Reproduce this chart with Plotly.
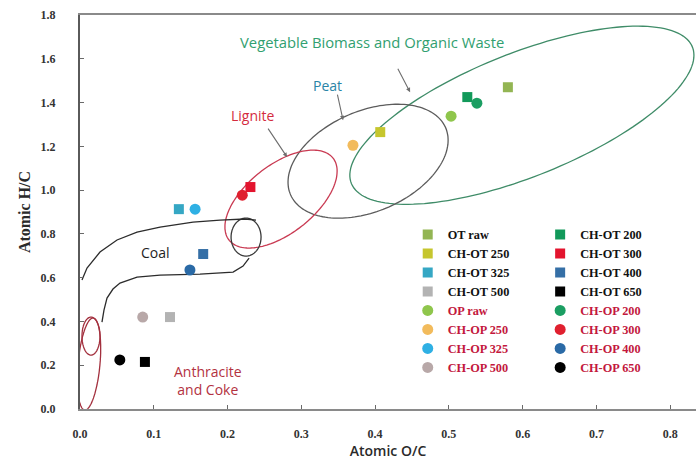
import numpy as np
import plotly.graph_objects as go

# Atomic ratios of the OT series (raw feedstock and chars at each temperature)
ot_names = ["OT raw", "CH-OT 200", "CH-OT 250", "CH-OT 300",
            "CH-OT 325", "CH-OT 400", "CH-OT 500", "CH-OT 650"]
ot_oc = [0.580, 0.525, 0.407, 0.231, 0.134, 0.167, 0.122, 0.088]
ot_hc = [1.470, 1.425, 1.265, 1.014, 0.913, 0.708, 0.420, 0.215]

# Atomic ratios of the OP series
op_names = ["OP raw", "CH-OP 200", "CH-OP 250", "CH-OP 300",
            "CH-OP 325", "CH-OP 400", "CH-OP 500", "CH-OP 650"]
op_oc = [0.503, 0.538, 0.370, 0.220, 0.156, 0.149, 0.085, 0.054]
op_hc = [1.338, 1.397, 1.205, 0.977, 0.913, 0.635, 0.420, 0.224]

ot_colors = ["#93b553", "#12995a", "#c6c62e", "#e3142e",
             "#35a7c4", "#356fa6", "#b3b3b3", "#000000"]
op_colors = ["#8fc64c", "#1b9e62", "#f2bb5c", "#e0202f",
             "#2fb0e4", "#2a6aa6", "#b8a8a8", "#000000"]

x_ticks = [0.0, 0.1, 0.2, 0.3, 0.4, 0.5, 0.6, 0.7, 0.8]
y_ticks = [0.0, 0.2, 0.4, 0.6, 0.8, 1.0, 1.2, 1.4, 1.6, 1.8]

OP_TEXT = "#c3173d"

fig = go.Figure()

# legend columns: raw/250/325/500 on the left, 200/300/400/650 on the right
left_idx = [0, 2, 4, 6]
right_idx = [1, 3, 5, 7]
for series, (names, xs, ys, cols, sym) in enumerate([
        (ot_names, ot_oc, ot_hc, ot_colors, "square"),
        (op_names, op_oc, op_hc, op_colors, "circle")]):
    for i, name in enumerate(names):
        label = name if series == 0 else f"<span style='color:{OP_TEXT}'>{name}</span>"
        col_pos = left_idx.index(i) if i in left_idx else right_idx.index(i)
        fig.add_trace(go.Scatter(
            x=[xs[i]], y=[ys[i]], mode="markers", name=label,
            marker=dict(symbol=sym, size=10 if sym == "square" else 11,
                        color=cols[i], line=dict(width=0)),
            legend="legend" if i in left_idx else "legend2",
            legendrank=series * 4 + col_pos + 1,
        ))


def ellipse_path(cx, cy, ux, uy, vx, vy, n=160):
    t = np.linspace(0, 2 * np.pi, n)
    xs = cx + ux * np.cos(t) + vx * np.sin(t)
    ys = cy + uy * np.cos(t) + vy * np.sin(t)
    pts = " L ".join(f"{a:.4f},{b:.4f}" for a, b in zip(xs, ys))
    return f"M {pts} Z"


def poly_path(points):
    return "M " + " L ".join(f"{a:.4f},{b:.4f}" for a, b in points)


# fuel-type regions (centre plus two conjugate semi-axes, in axis units)
regions = [
    ((0.599, 1.342, 0.2332, 0.274, 0.0, 0.301), "#3f8c68"),   # biomass
    ((0.3905, 1.132, 0.1085, 0.0959, 0.0, 0.242), "#5c5c5c"),  # peat
    ((0.2725, 0.959, 0.0705, 0.1872, 0.0285, -0.1224), "#c93a52"),  # lignite
    ((0.2251, 0.7854, 0.0203, 0.0, 0.0, 0.0868), "#3a3a3a"),   # coal end
    ((0.0149, 0.333, 0.0122, 0.0, 0.0, 0.0868), "#a3303e"),    # anthracite
    ((0.0122, 0.2055, 0.0149, 0.0, 0.0054, 0.21), "#a3303e"),  # coke
]
shapes = []
for params, col in regions:
    shapes.append(dict(type="path", path=ellipse_path(*params), xref="x", yref="y",
                       line=dict(color=col, width=1.3), layer="below"))

coal_upper = [(0.0027, 0.589), (0.0095, 0.644), (0.0271, 0.717), (0.0502, 0.772),
              (0.0773, 0.808), (0.1085, 0.831), (0.1532, 0.854), (0.1898, 0.863),
              (0.2237, 0.868), (0.2386, 0.863)]
coal_lower = [(0.2292, 0.6895), (0.2210, 0.653), (0.2075, 0.6256), (0.1627, 0.6164),
              (0.1085, 0.6119), (0.0773, 0.6027), (0.0542, 0.5753), (0.0447, 0.548),
              (0.0366, 0.5068), (0.0325, 0.452), (0.0298, 0.397)]
for pts in (coal_upper, coal_lower):
    shapes.append(dict(type="path", path=poly_path(pts), xref="x", yref="y",
                       line=dict(color="#2c2c2c", width=1.3), layer="below"))

label_font = "Open Sans"
annotations = [
    dict(x=0.1017, y=0.717, text="Coal", font=dict(family=label_font, size=14, color="#1e1e1e")),
    dict(x=0.1736, y=0.128, text="Anthracite<br>and Coke",
         font=dict(family=label_font, size=14, color="#b3323f")),
    dict(x=0.2346, y=1.342, text="Lignite", font=dict(family=label_font, size=14, color="#d42b3e")),
    dict(x=0.3349, y=1.479, text="Peat", font=dict(family=label_font, size=14, color="#2a84a6")),
    dict(x=0.3959, y=1.676, text="Vegetable Biomass and Organic Waste",
         font=dict(family=label_font, size=14.8, color="#31a070")),
]
for a in annotations:
    a.update(xref="x", yref="y", showarrow=False)

# pointer arrows from the labels to their regions
for (tx, ty), (hx, hy) in [((0.2536, 1.2877), (0.2807, 1.1507)),
                           ((0.3485, 1.4429), (0.3566, 1.3196)),
                           ((0.4298, 1.5616), (0.4475, 1.4475))]:
    annotations.append(dict(x=hx, y=hy, ax=tx, ay=ty, xref="x", yref="y",
                            axref="x", ayref="y", text="", showarrow=True,
                            arrowhead=2, arrowsize=0.8, arrowwidth=1.1,
                            arrowcolor="#6e6e6e"))

tick_font = dict(family="Liberation Serif", size=12, color="#333333", weight="bold")
legend_common = dict(font=dict(family="Liberation Serif", size=12.3, color="#111111",
                               weight="bold"),
                     bgcolor="rgba(0,0,0,0)", borderwidth=0, itemsizing="trace",
                     xanchor="left", yanchor="top", tracegroupgap=0)

fig.update_layout(
    width=696, height=464,
    margin=dict(l=80, r=0, t=15, b=55),
    paper_bgcolor="white", plot_bgcolor="white",
    shapes=shapes, annotations=annotations,
    showlegend=True,
    legend=dict(x=0.532, y=0.48, **legend_common),
    legend2=dict(x=0.747, y=0.48, **legend_common),
    xaxis=dict(range=[0, 0.835], tickvals=x_ticks, ticktext=[f"{v:.1f}" for v in x_ticks],
               showline=True, linecolor="#8a8a8a", linewidth=2, mirror=True,
               ticks="inside", ticklen=4, tickcolor="#6a6a6a", tickwidth=1,
               tickfont=tick_font, ticklabelstandoff=13,
               showgrid=False, zeroline=False,
               title=dict(text="Atomic O/C", standoff=6,
                          font=dict(family=label_font, size=14, color="#2a2a2a", weight=600))),
    yaxis=dict(range=[0, 1.8], tickvals=y_ticks, ticktext=[f"{v:.1f}" for v in y_ticks],
               showline=True, linecolor="#5a5a5a", linewidth=2,
               ticks="inside", ticklen=4, tickcolor="#6a6a6a", tickwidth=1,
               tickfont=tick_font, ticklabelstandoff=20,
               showgrid=False, zeroline=False,
               title=dict(text="Atomic H/C", standoff=6,
                          font=dict(family="Liberation Serif", size=16, color="#2a2a2a",
                                    weight="bold"))),
)

fig.write_html("out.html")
